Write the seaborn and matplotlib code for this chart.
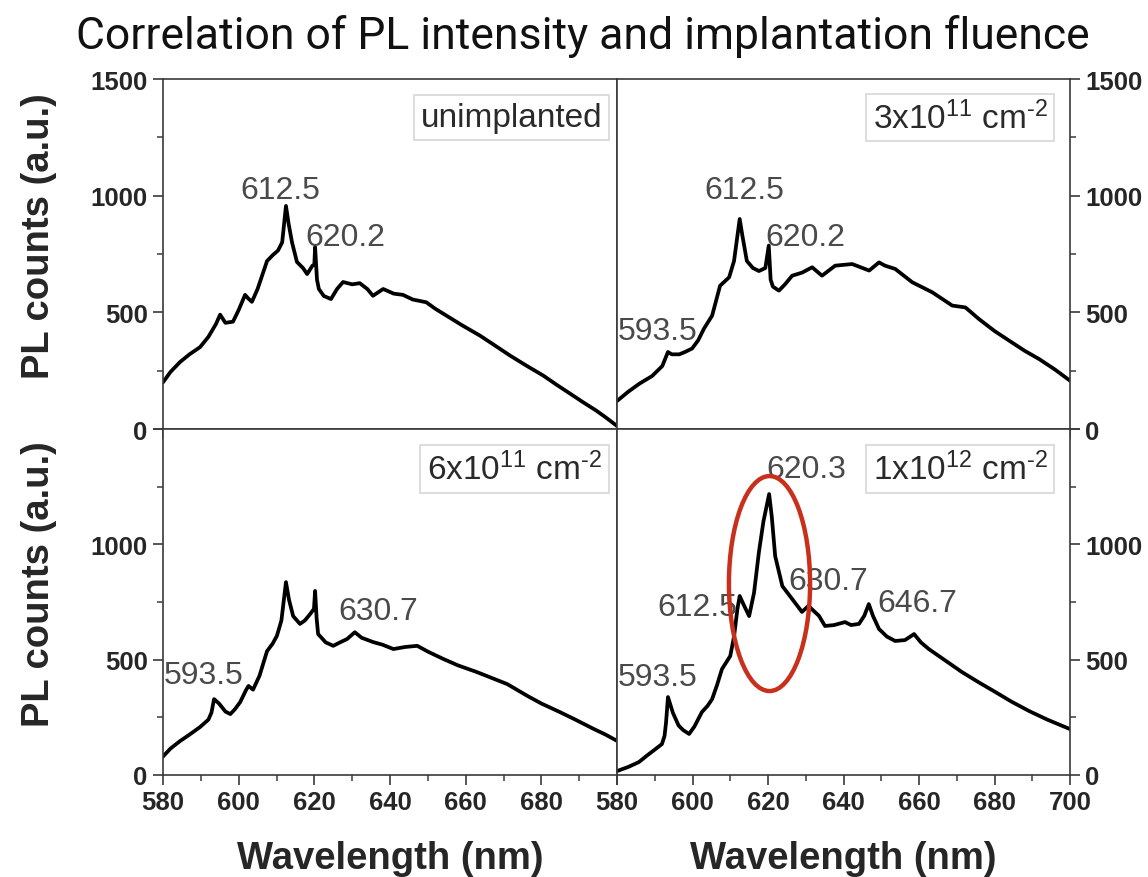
import matplotlib
matplotlib.use("Agg")
import matplotlib.pyplot as plt
from matplotlib.patches import Ellipse
import pandas as pd
import seaborn as sns

# ---------------------------------------------------------------- data
title = "Correlation of PL intensity and implantation fluence"
panel_names = ["unimplanted", "3x10$^{11}$ cm$^{\u20102}$",
               "6x10$^{11}$ cm$^{\u20102}$", "1x10$^{12}$ cm$^{\u20102}$"]

# unimplanted
wl_a = [580, 582, 584.5, 587, 589.8, 592, 594, 595.1, 596.5, 598.5, 600, 601.7,
        602.5, 603.5, 605, 607.5, 609, 610.4, 611.5, 612.5, 613.2, 614.1, 615.4,
        617, 618.1, 619.5, 620.0, 620.2, 620.7, 621.2, 622.5, 624.4, 626, 627.6,
        630, 632, 634, 635.5, 638.2, 641, 643.4, 646, 649.6, 652, 654.9, 659,
        663.8, 668, 671.8, 676, 680.5, 684, 688.4, 691, 694.5, 697, 700]
pl_a = [200, 245, 287, 320, 351, 395, 450, 490, 455, 460, 510, 575,
        560, 545, 600, 720, 745, 765, 800, 956, 880, 800, 716,
        690, 664, 700, 705, 780, 640, 600, 570, 557, 600, 630,
        620, 625, 600, 571, 600, 580, 575, 555, 543, 515, 486, 445,
        400, 355, 314, 272, 229, 190, 143, 115, 79, 50, 13]

# 3x10^11 cm^-2
wl_b = [580, 583, 586, 589.3, 592, 593.5, 594.5, 596.5, 598, 599.9, 601.5, 603,
        605.2, 607.3, 609.7, 611, 612.5, 613.2, 614.4, 616, 617.6, 619.3, 620.2,
        620.7, 621.3, 622.9, 624.5, 626.4, 629, 631.7, 634.3, 637.8, 642.3,
        646.8, 649.4, 651, 653.7, 658.2, 663.5, 668.8, 672.3, 675.9, 680, 684.6,
        688, 691.8, 696, 700]
pl_b = [120, 160, 195, 227, 270, 330, 320, 320, 330, 345, 380, 429,
        486, 614, 650, 720, 900, 830, 720, 690, 677, 690, 786,
        640, 610, 593, 620, 657, 670, 693, 657, 700, 707,
        679, 714, 700, 686, 629, 586, 529, 521, 471, 420, 371,
        335, 300, 255, 207]

# 6x10^11 cm^-2
wl_c = [580, 582, 584.5, 587, 589.8, 592, 592.8, 593.5, 594.8, 596.5, 597.8,
        599, 600.4, 602, 602.6, 603.8, 605.5, 607.5, 609, 610.1, 611.3, 612.5,
        613.3, 614.4, 616.2, 617.5, 618.9, 619.9, 620.2, 620.6, 621, 623, 625,
        626.8, 628.7, 630.7, 632.5, 635.6, 638, 640.9, 644, 647.2, 650, 654.1,
        658, 663, 667, 671, 676.3, 680, 685, 689, 693.8, 697, 700]
pl_c = [80, 115, 147, 175, 208, 240, 270, 329, 310, 275, 264,
        285, 316, 370, 386, 370, 430, 537, 570, 603, 670, 836,
        760, 689, 655, 670, 698, 720, 798, 680, 611, 575, 560,
        575, 590, 619, 595, 576, 565, 546, 555, 560, 535, 503,
        475, 446, 420, 394, 343, 310, 272, 240, 200, 175, 148]

# 1x10^12 cm^-2
wl_d = [580, 583, 585.8, 588, 590, 591.9, 592.6, 593.0, 593.5, 594.8, 596.3,
        597.5, 599.1, 600.5, 602.5, 604, 605.2, 606.5, 607.8, 609, 610, 611,
        611.9, 612.5, 613.5, 615, 616.3, 617.6, 618.8, 620.3, 621, 621.9, 623.8,
        626.4, 629, 630.7, 633.5, 635.1, 637.5, 640.4, 642, 644.1, 645.5, 646.7,
        647.8, 649.4, 651.5, 653.7, 656.3, 658.7, 660.5, 662.6, 667, 671.4, 676,
        680.2, 684.5, 689.2, 694, 700]
pl_d = [17, 35, 56, 85, 110, 134, 170, 229, 338, 270, 215,
        195, 178, 210, 273, 300, 329, 390, 459, 490, 516, 600,
        720, 776, 740, 689, 790, 967, 1100, 1218, 1120, 949, 819,
        763, 707, 733, 690, 646, 650, 663, 650, 655, 690, 741,
        690, 633, 600, 581, 585, 611, 575, 546, 496, 446, 400,
        360, 318, 277, 240, 199]

# peak labels: (text, wavelength of label anchor, count of label baseline)
peaks_a = [("612.5", 600.4, 990), ("620.2", 617.6, 789)]
peaks_b = [("593.5", 580.2, 386), ("612.5", 603.1, 990), ("620.2", 619.4, 789)]
peaks_c = [("593.5", 580.2, 399), ("630.7", 626.3, 676)]
peaks_d = [("593.5", 580.3, 390), ("612.5", 590.6, 694), ("620.3", 619.7, 1292),
           ("630.7", 625.3, 806), ("646.7", 648.9, 711)]

# highlighted region around the 620.3 nm line
hl_center = (620.4, 830)
hl_size = (21.5, 932)

x_ticks = [580, 600, 620, 640, 660, 680, 700]
x_labels_left = ["580", "600", "620", "640", "660", "680", ""]
x_labels_right = ["580", "600", "620", "640", "660", "680", "700"]
y_ticks = [0, 500, 1000, 1500]
y_labels_top = ["0", "500", "1000", "1500"]
y_labels_bottom = ["0", "500", "1000", ""]

# ---------------------------------------------------------------- style
sns.set_style("ticks")
plt.rcParams["font.family"] = ["Liberation Sans", "DejaVu Sans"]
plt.rcParams["mathtext.default"] = "regular"
plt.rcParams["axes.edgecolor"] = "#3a3a3a"
plt.rcParams["axes.linewidth"] = 1.2

W, H = 1148, 878
fig = plt.figure(figsize=(W / 100, H / 100), dpi=100)


def add_px_axes(left, top, right, bottom):
    return fig.add_axes([left / W, 1 - bottom / H, (right - left) / W,
                         (bottom - top) / H])


ax_a = add_px_axes(163, 80, 617, 430)
ax_b = add_px_axes(617, 80, 1070, 430)
ax_c = add_px_axes(163, 430, 617, 776)
ax_d = add_px_axes(617, 430, 1070, 776)

panels = [
    (ax_a, wl_a, pl_a, peaks_a, panel_names[0], "left", "top"),
    (ax_b, wl_b, pl_b, peaks_b, panel_names[1], "right", "top"),
    (ax_c, wl_c, pl_c, peaks_c, panel_names[2], "left", "bottom"),
    (ax_d, wl_d, pl_d, peaks_d, panel_names[3], "right", "bottom"),
]

tick_font = dict(fontsize=18.5, fontweight="bold")
label_font = dict(fontsize=27.5, fontweight="bold")

for ax, wl, pl, peaks, name, col, row in panels:
    df = pd.DataFrame({"Wavelength (nm)": wl, "PL counts (a.u.)": pl})
    sns.lineplot(data=df, x="Wavelength (nm)", y="PL counts (a.u.)", ax=ax,
                 color="black", linewidth=2.7, estimator=None, sort=False)
    ax.set_xlim(580, 700)
    ax.set_ylim(0, 1500)

    ax.set_xticks(x_ticks, labels=(x_labels_left if col == "left" else x_labels_right),
                  **tick_font)
    ax.set_xticks(range(590, 700, 20), minor=True)
    ax.set_yticks(y_ticks, labels=(y_labels_top if row == "top" else y_labels_bottom),
                  **tick_font)
    ax.set_yticks([250, 750, 1250], minor=True)
    ax.tick_params(which="major", direction="out", length=7, width=1.2, pad=4,
                   color="#3a3a3a")
    ax.tick_params(which="minor", direction="out", length=4, width=1.1,
                   color="#3a3a3a")

    if col == "right":
        ax.yaxis.tick_right()
        ax.tick_params(axis="y", which="both", left=False, right=True,
                       labelleft=False, labelright=True)
        ax.set_ylabel("")
    else:
        ax.set_ylabel("PL counts (a.u.)", **label_font)
        ax.yaxis.set_label_coords(-0.233, 0.555)

    if row == "top":
        ax.tick_params(axis="x", labelbottom=False)
        ax.set_xlabel("")
    else:
        ax.set_xlabel("Wavelength (nm)", **label_font)
        ax.xaxis.set_label_coords(0.5, -0.187)

    for txt, x, y in peaks:
        ax.text(x, y, txt, fontsize=23, color="#4a4a4a", ha="left",
                va="baseline", zorder=3)

    bx = 0.967 if col == "left" else 0.951
    by = 0.89 if row == "top" else 0.884
    ax.text(bx, by, name, transform=ax.transAxes, ha="right", va="center",
            fontsize=24, color="#2a2a2a", zorder=4,
            bbox=dict(boxstyle="square,pad=0.2", fc="white", ec="#dadada",
                      lw=1.3))

ax_d.add_patch(Ellipse(hl_center, hl_size[0], hl_size[1], fill=False,
                       edgecolor="#c9301c", linewidth=3.2, zorder=5))

fig.text(583 / W, 1 - 36 / H, title, ha="center", va="center",
         fontsize=32, family=["Roboto", "DejaVu Sans"], fontweight="normal",
         color="#111111")

fig.savefig("out.png", dpi=100)
